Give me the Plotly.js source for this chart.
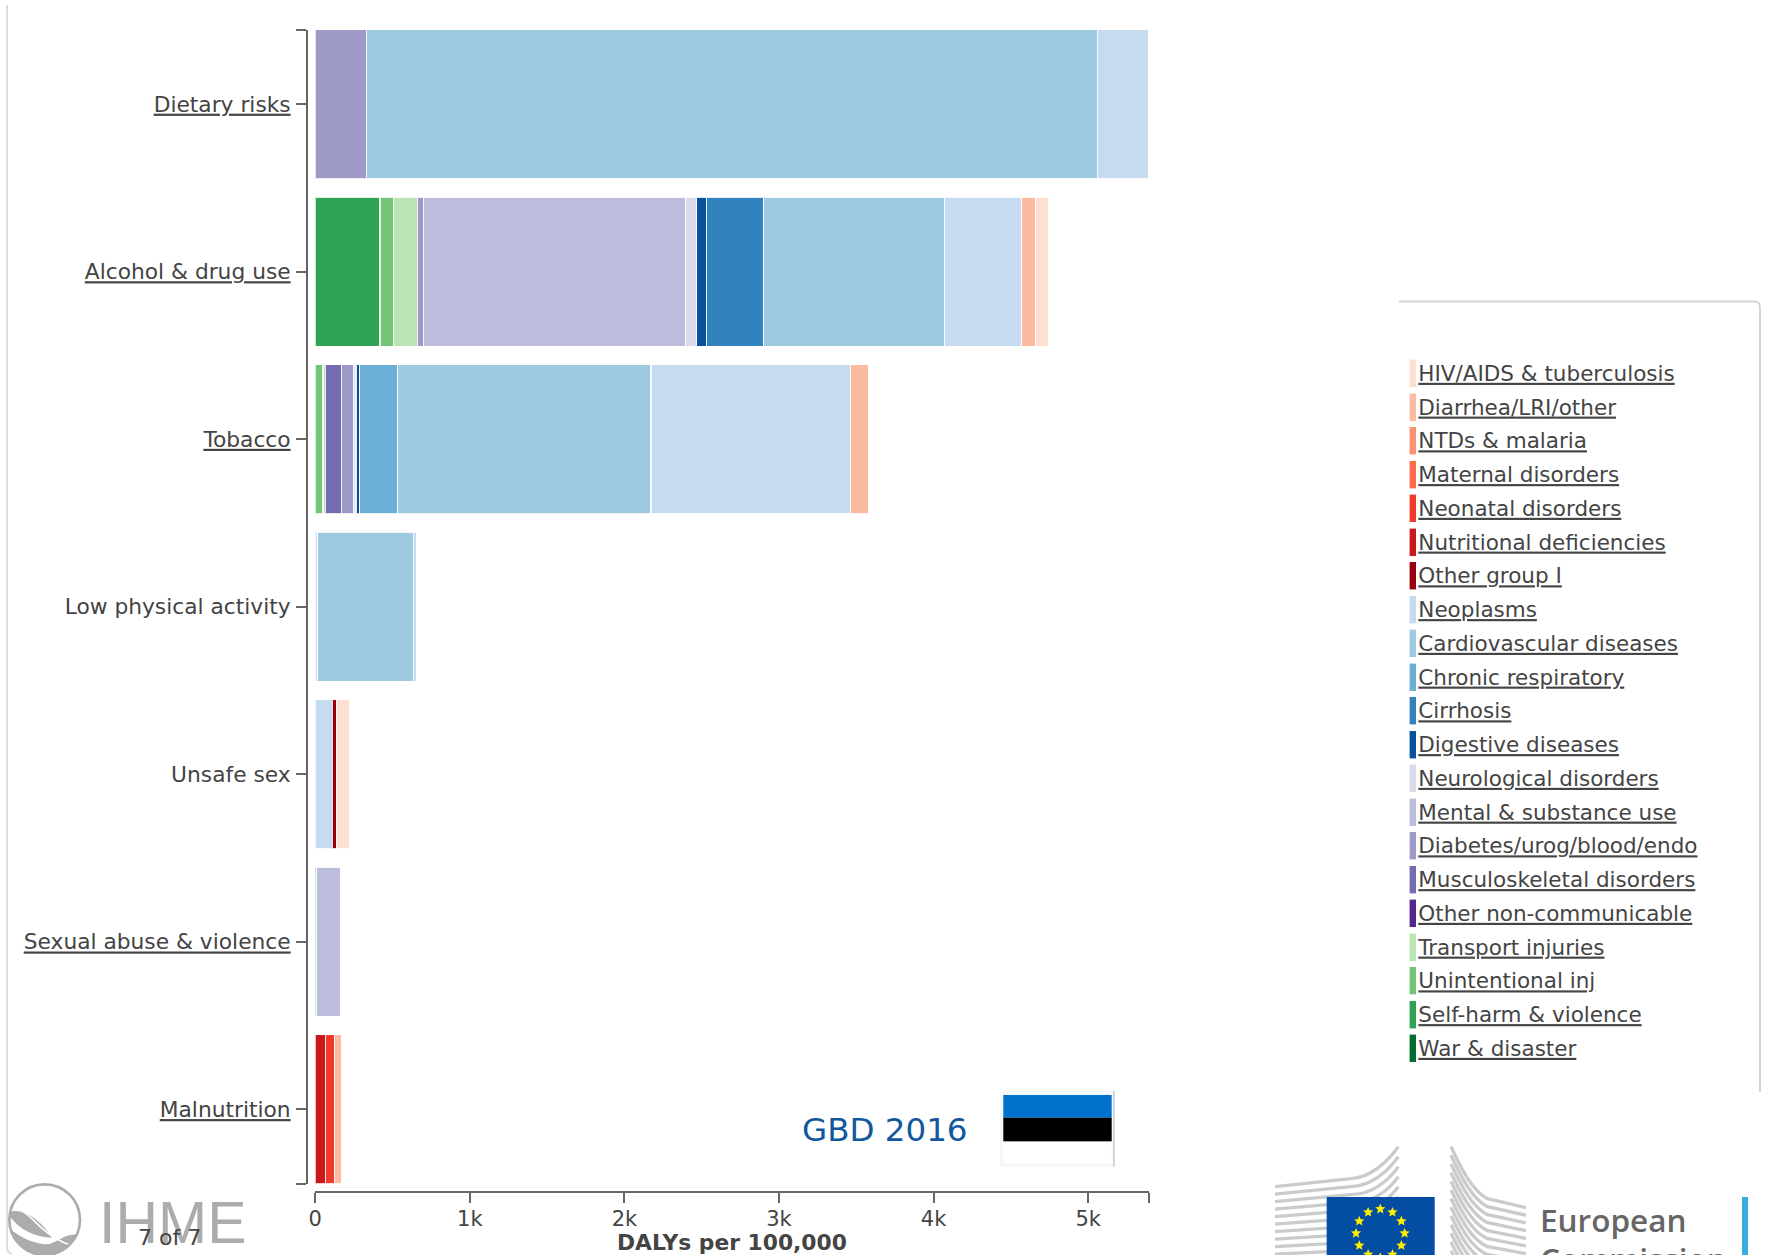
<!DOCTYPE html>
<html>
<head>
<meta charset="utf-8">
<script src="https://cdn.plot.ly/plotly-3.0.1.min.js"></script>
<style>html,body{margin:0;padding:0;background:#fff}#chart{width:1773px;height:1255px}</style>
</head>
<body>
<div id="chart"></div>
<script>
// ---------- data ----------
const riskLabels = ["Dietary risks","Alcohol & drug use","Tobacco","Low physical activity","Unsafe sex","Sexual abuse & violence","Malnutrition"];
const riskLinked = [true,true,true,false,false,true,true];
const causeNames = ["HIV/AIDS & tuberculosis","Diarrhea/LRI/other","NTDs & malaria","Maternal disorders","Neonatal disorders","Nutritional deficiencies","Other group I","Neoplasms","Cardiovascular diseases","Chronic respiratory","Cirrhosis","Digestive diseases","Neurological disorders","Mental & substance use","Diabetes/urog/blood/endo","Musculoskeletal disorders","Other non-communicable","Transport injuries","Unintentional inj","Self-harm & violence","War & disaster"];
const causeColors = ["#fee0d2","#fcbba1","#fc9272","#fb6a4a","#ef3b2c","#cb181d","#99000d","#c6dbef","#9ecae1","#6baed6","#3182bd","#08519c","#dadaeb","#bcbddc","#9e9ac8","#756bb1","#54278f","#bae4b3","#74c476","#31a354","#006d2c"];

const hiv           = [0,86,0,0,88,0,0];
const diarrhea      = [0,89,119,0,0,0,46];
const ntds          = [0,0,0,0,0,0,0];
const maternal      = [0,0,0,0,0,0,0];
const neonatal      = [0,0,0,0,0,0,58];
const nutritional   = [0,0,0,0,0,0,64];
const otherGroupI   = [0,0,0,0,27,0,0];
const neoplasms     = [333,502,1288,21,110,0,0];
const cardiovascular= [4729,1169,1638,620,0,0,0];
const chronicResp   = [0,0,248,0,0,0,0];
const cirrhosis     = [0,367,0,0,0,0,0];
const digestive     = [0,66,23,0,0,0,0];
const neurological  = [0,73,16,15,0,0,0];
const mental        = [0,1694,0,0,0,158,0];
const diabetes      = [329,40,79,0,0,0,0];
const musculo       = [0,0,102,0,0,0,0];
const otherNcd      = [0,0,0,0,0,0,0];
const transport     = [0,155,16,0,0,0,0];
const unintentional = [0,86,50,0,0,0,0];
const selfHarm      = [0,419,0,0,0,8,0];
const war           = [0,0,0,0,0,0,0];
const seriesValues = [hiv,diarrhea,ntds,maternal,neonatal,nutritional,otherGroupI,neoplasms,cardiovascular,chronicResp,cirrhosis,digestive,neurological,mental,diabetes,musculo,otherNcd,transport,unintentional,selfHarm,war];

const xTickVals = [0,1000,2000,3000,4000,5000];
const xTickText = ["0","1k","2k","3k","4k","5k"];
const xMax = 5391;

// ---------- layout helpers (page pixels -> paper fractions) ----------
const W = 1773, H = 1255;
const fx = p => p / W;
const fy = p => 1 - p / H;
const TEXT = "#444444", FONT = "DejaVu Sans";
const u = s => "<u>" + s + "</u>";

// ---------- traces ----------
const rowIndex = riskLabels.map((_, i) => i);
const traces = [];
for (let i = causeNames.length - 1; i >= 0; i--) {
  traces.push({
    type: "bar", orientation: "h", name: causeNames[i],
    x: seriesValues[i], y: rowIndex, xaxis: "x", yaxis: "y",
    marker: {color: causeColors[i], line: {color: "rgba(255,255,255,0.85)", width: 1.2}},
    hoverinfo: "name+x"
  });
}
const legendRows = causeNames.map((_, i) => i);
traces.push({
  type: "bar", orientation: "h", x: causeNames.map(() => 1), y: legendRows,
  xaxis: "x2", yaxis: "y2", width: 0.83,
  marker: {color: causeColors, line: {color: "#ffffff", width: 0.6}},
  hoverinfo: "skip"
});

// ---------- decoration: logos, frame lines ----------
function star(cx, cy, R) {
  let p = [];
  for (let k = 0; k < 10; k++) {
    const r = k % 2 ? R * 0.45 : R, a = -Math.PI / 2 + k * Math.PI / 5;
    p.push((cx + r * Math.cos(a)).toFixed(1) + "," + (cy + r * Math.sin(a)).toFixed(1));
  }
  return '<polygon fill="#ffed00" points="' + p.join(" ") + '"/>';
}
let art = '';
// frame lines
art += '<path d="M7,5 V1247 Q7,1253 12,1254" fill="none" stroke="#dcdcdc" stroke-width="2"/>';
art += '<path d="M1399,301.5 H1754 Q1760,301.5 1760,307.5 V1092" fill="none" stroke="#d4d4d4" stroke-width="2"/>';
// IHME emblem
art += '<g transform="translate(0,1165) scale(0.3333)">';
art += '<clipPath id="c"><circle cx="134" cy="164" r="107"/></clipPath>';
art += '<g clip-path="url(#c)"><path d="M22,145 C60,120 125,165 155,218 C110,218 55,195 22,145 Z" fill="#acacac"/>';
art += '<path d="M20,185 C60,215 90,232 135,238 C170,240 190,200 240,210 L250,280 L20,280 Z" fill="#acacac"/>';
art += '<path d="M45,128 C100,145 120,210 215,242" fill="none" stroke="#fff" stroke-width="5"/>';
art += '<path d="M30,165 C70,205 120,225 150,222 C165,218 175,210 185,205" fill="none" stroke="#fff" stroke-width="4"/></g>';
art += '<circle cx="134" cy="164" r="106" fill="none" stroke="#acacac" stroke-width="8"/></g>';
// Commission building
art += '<g transform="translate(1270,1135) scale(0.3333)" fill="none" stroke="#cbcbcb" stroke-width="10">';
for (let i = 0; i < 10; i++) {
  art += '<path d="M15,' + (155 + 22.5 * i) + ' L250,' + (130 + 24 * i) + ' C300,' + (125 + 26 * i) + ' 350,' + (85 + 30 * i) + ' 385,' + (35 + 30 * i) + '"/>';
}
for (let i = 0; i < 13; i++) {
  art += '<path d="M543,' + (35 + 26 * i) + ' C570,' + (90 + 26 * i) + ' 600,' + (160 + 25 * i) + ' 650,' + (190 + 24 * i) + ' L768,' + (218 + 23 * i) + '"/>';
}
art += '</g>';
// EU flag
art += '<rect x="1326.7" y="1197" width="108" height="60" fill="#034ea2"/>';
for (let k = 0; k < 12; k++) {
  const a = k * Math.PI / 6;
  art += star(1380.3 + 24.3 * Math.sin(a), 1233.3 - 24.3 * Math.cos(a), 5.4);
}
art += '<rect x="1742" y="1197" width="6" height="60" fill="#39ace0"/>';
// Estonian flag
art += '<rect x="1000" y="1091" width="114" height="75.7" fill="#f5f7fa"/>';
art += '<rect x="1003.3" y="1095" width="108.4" height="68.3" fill="#ffffff"/>';
art += '<rect x="1003.3" y="1095" width="108.4" height="22.7" fill="#0072ce"/>';
art += '<rect x="1003.3" y="1117.7" width="108.4" height="23.3" fill="#000000" stroke="none"/>';
art += '<rect x="1003.3" y="1141" width="108.4" height="1" fill="#a8a8a8"/>';
art += '<rect x="1113.5" y="1091" width="1" height="75.7" fill="#aab5c5"/>';
const artSvg = '<svg xmlns="http://www.w3.org/2000/svg" width="' + W + '" height="' + H + '" viewBox="0 0 ' + W + ' ' + H + '">' + art + '</svg>';

// ---------- layout ----------
const ann = (text, x, y, size, color, extra) => Object.assign({
  text, x: fx(x), y: fy(y), xref: "paper", yref: "paper", showarrow: false,
  xanchor: "left", yanchor: "middle", font: {family: FONT, size, color}, borderpad: 0
}, extra || {});

const yPad = 0.445;
const ecFont = {family: "Open Sans", size: 31.5, color: "#666666", weight: 600};
const layout = {
  width: W, height: H, margin: {l: 0, r: 0, t: 0, b: 0, pad: 0},
  paper_bgcolor: "#ffffff", plot_bgcolor: "rgba(0,0,0,0)",
  barmode: "stack", bargap: 0.11, showlegend: false, hovermode: "closest",
  font: {family: FONT, color: TEXT},
  xaxis: {
    domain: [fx(315.3), fx(1148.6)], range: [0, xMax], anchor: "free", position: fy(1192),
    tickmode: "array", tickvals: xTickVals.concat([xMax]), ticktext: xTickText.concat([""]),
    ticks: "outside", ticklen: 10, tickwidth: 1.5, tickcolor: "#666666",
    ticklabelstandoff: -2,
    showline: true, linecolor: "#666666", linewidth: 2, showgrid: false, zeroline: false,
    tickfont: {family: FONT, size: 21, color: TEXT},
    title: {text: "<b>DALYs per 100,000</b>", font: {family: FONT, size: 21.8, color: TEXT}, standoff: 3}
  },
  yaxis: {
    domain: [fy(1184), fy(29.5)], range: [6 + yPad, -yPad], anchor: "free", position: fx(307),
    tickmode: "array",
    tickvals: [-yPad].concat(rowIndex, [6 + yPad]),
    ticktext: [""].concat(riskLabels.map((s, i) => riskLinked[i] ? u(s) : s), [""]),
    ticks: "outside", ticklen: 10, tickwidth: 1.5, tickcolor: "#666666",
    ticklabelstandoff: 1,
    showline: true, linecolor: "#666666", linewidth: 2, showgrid: false, zeroline: false,
    tickfont: {family: FONT, size: 21.75, color: TEXT}
  },
  xaxis2: {
    domain: [fx(1409), fx(1416.3)], range: [0, 1], anchor: "y2",
    visible: false, fixedrange: true
  },
  yaxis2: {
    domain: [fy(1065.2), fy(356.4)], range: [20.5, -0.5], anchor: "x2", side: "right",
    tickmode: "array", tickvals: legendRows, ticktext: causeNames.map(u),
    ticks: "", showline: false, showgrid: false, zeroline: false, fixedrange: true,
    ticklabelstandoff: 1,
    tickfont: {family: FONT, size: 21.5, color: TEXT}
  },
  images: [{
    source: "data:image/svg+xml," + encodeURIComponent(artSvg),
    xref: "paper", yref: "paper", x: 0, y: 1, sizex: 1, sizey: 1,
    xanchor: "left", yanchor: "top", sizing: "stretch", layer: "below"
  }],
  annotations: [
    ann("GBD 2016", 801, 1130, 32.5, "#11589a"),
    ann("IHME", 98, 1223, 59, "#acacac", {font: {family: "Liberation Sans", size: 59, color: "#acacac"}}),
    ann("European", 1539, 1219, 31.5, "#666666", {font: ecFont}),
    ann("Commission", 1539, 1258, 31.5, "#666666", {font: ecFont}),
    ann("7 of 7", 137, 1237, 22, TEXT)
  ]
};

Plotly.newPlot("chart", traces, layout, {displayModeBar: false, responsive: false});
</script>
</body>
</html>
